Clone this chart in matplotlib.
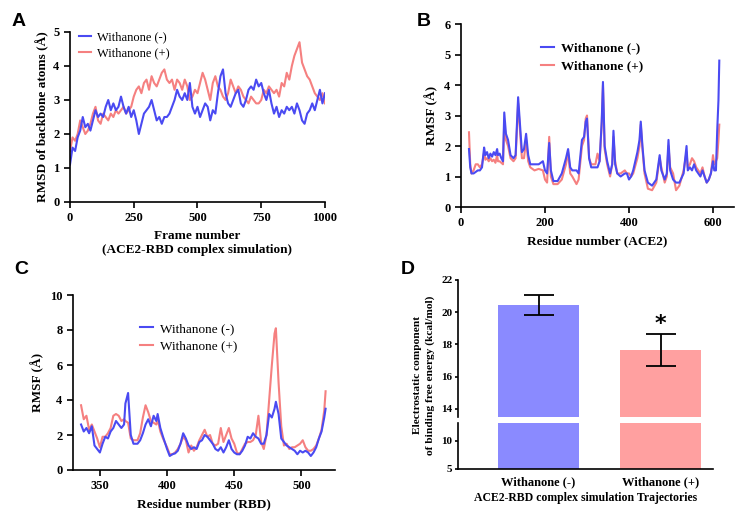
import matplotlib
matplotlib.use('Agg')
import matplotlib.pyplot as plt

# ---- data ----
# Panel A: RMSD vs frame (every 10 frames)
frames = list(range(0, 1001, 10))
rmsd_minus = [1.1, 1.6, 1.5, 1.9, 2.1, 2.5, 2.2, 2.3, 2.1, 2.4,
              2.7, 2.5, 2.6, 2.5, 2.8, 3.0, 2.7, 2.9, 2.7, 2.8,
              3.1, 2.8, 2.6, 2.8, 2.5, 2.7, 2.4, 2.0, 2.3, 2.6,
              2.7, 2.8, 3.0, 2.7, 2.4, 2.5, 2.3, 2.5, 2.5, 2.6,
              2.8, 3.0, 3.3, 3.1, 3.0, 3.2, 3.0, 3.5, 2.8, 2.6,
              2.8, 2.5, 2.7, 2.9, 2.8, 2.4, 2.7, 2.6, 3.2, 3.7,
              3.9, 3.2, 2.9, 2.8, 3.0, 3.2, 3.3, 2.9, 2.8, 3.0,
              3.3, 3.4, 3.3, 3.6, 3.4, 3.5, 3.2, 3.0, 3.3, 2.9,
              2.6, 2.8, 2.5, 2.7, 2.6, 2.8, 2.7, 2.8, 2.6, 2.9,
              2.7, 2.4, 2.3, 2.6, 2.7, 2.9, 2.7, 3.0, 3.3, 2.9,
              3.2]
rmsd_plus = [1.5, 1.9, 1.8, 2.0, 2.4, 2.2, 2.0, 2.1, 2.3, 2.6,
             2.8, 2.4, 2.3, 2.6, 2.5, 2.4, 2.6, 2.5, 2.7, 2.6,
             2.7, 2.8, 2.6, 2.7, 2.8, 3.1, 3.3, 3.4, 3.2, 3.5,
             3.6, 3.3, 3.7, 3.5, 3.4, 3.6, 3.8, 3.9, 3.6, 3.5,
             3.6, 3.3, 3.6, 3.5, 3.3, 3.6, 3.4, 3.0, 3.1, 3.3,
             3.2, 3.5, 3.8, 3.6, 3.3, 3.0, 3.5, 3.7, 3.4, 3.3,
             3.1, 3.0, 3.2, 3.6, 3.4, 3.2, 3.4, 3.3, 3.1, 3.0,
             2.9, 3.1, 3.0, 2.9, 2.9, 3.0, 3.3, 3.2, 3.4, 3.3,
             3.2, 3.3, 3.1, 3.5, 3.4, 3.8, 3.6, 4.0, 4.3, 4.5,
             4.7, 4.1, 3.9, 3.7, 3.6, 3.4, 3.2, 3.1, 3.0, 3.2,
             2.9]

# Panel B: RMSF per ACE2 residue
ace2_res = [19, 22, 25, 30, 35, 40, 45, 50, 55, 58, 62, 66, 70, 74, 78, 82, 86, 88,
            92, 96, 100, 103, 107, 112, 118, 125, 130, 136, 140, 145, 150, 155,
            160, 165, 175, 185, 195, 200, 205, 210, 214, 220, 230, 240, 250, 255,
            260, 265, 275, 280, 288, 293, 297, 300, 305, 310, 320, 325, 330, 335,
            338, 342, 348, 355, 360, 363, 367, 372, 380, 390, 395, 400, 405, 410,
            420, 425, 428, 432, 437, 445, 455, 465, 470, 473, 477, 485, 490, 494,
            498, 505, 512, 520, 530, 537, 540, 545, 550, 555, 560, 570, 575, 580,
            585, 590, 595, 600, 603, 607, 610, 613, 615]
ace2_minus = [1.9, 1.3, 1.1, 1.1, 1.15, 1.2, 1.2, 1.3, 1.95, 1.7, 1.8, 1.6, 1.75, 1.65, 1.8, 1.7, 1.9, 1.7,
              1.75, 1.6, 1.5, 3.1, 2.4, 2.2, 1.7, 1.6, 1.7, 3.6, 2.8, 1.8, 1.9, 2.4,
              1.7, 1.4, 1.4, 1.4, 1.5, 1.2, 1.1, 2.1, 1.2, 0.85, 0.85, 1.1, 1.6, 1.9,
              1.3, 1.2, 1.2, 1.1, 2.2, 2.3, 2.8, 2.9, 1.6, 1.3, 1.3, 1.3, 1.5, 2.8,
              4.1, 2.0, 1.5, 1.1, 1.4, 2.5, 1.4, 1.1, 1.0, 1.1, 1.1, 0.9, 1.0, 1.2,
              1.8, 2.2, 2.8, 2.0, 1.2, 0.8, 0.7, 0.9, 1.4, 1.7, 1.2, 0.9, 1.1, 2.2,
              1.2, 0.9, 0.8, 0.8, 1.1, 2.0, 1.2, 1.3, 1.2, 1.4, 1.2, 1.0, 1.2, 1.0,
              0.8, 0.9, 1.1, 1.5, 1.2, 1.2, 2.5, 3.5, 4.8]
ace2_plus = [2.45, 1.4, 1.1, 1.2, 1.4, 1.4, 1.3, 1.4, 1.8, 1.55, 1.6, 1.5, 1.6, 1.5, 1.55, 1.45, 1.7, 1.5,
             1.5, 1.45, 1.4, 2.8, 2.2, 2.0, 1.6, 1.5, 1.6, 3.4, 2.6, 1.6, 1.6, 2.2,
             1.5, 1.3, 1.2, 1.25, 1.2, 0.9, 0.8, 2.3, 1.0, 0.75, 0.75, 0.9, 1.4, 1.8,
             1.1, 1.0, 0.75, 0.9, 2.0, 2.2, 2.9, 3.0, 1.6, 1.4, 1.4, 1.75, 1.5, 2.7,
             4.0, 1.9, 1.4, 1.0, 1.4, 2.3, 1.5, 1.1, 1.1, 1.2, 1.1, 1.1, 1.0, 1.1,
             1.6, 2.0, 2.7, 1.9, 1.1, 0.6, 0.55, 0.8, 1.3, 1.6, 1.3, 0.8, 1.0, 2.0,
             1.3, 1.1, 0.55, 0.7, 1.2, 1.8, 1.3, 1.4, 1.6, 1.5, 1.3, 1.1, 1.3, 1.0,
             0.8, 0.9, 1.1, 1.7, 1.4, 1.5, 1.6, 2.2, 2.7]

# Panel C: RMSF per RBD residue
rbd_res = [336, 338, 340, 342, 344, 346, 348, 350, 352, 354, 356, 358, 360, 362, 364,
           366, 368, 369, 371, 373, 375, 378, 380, 382, 384, 386, 388, 390, 392, 393,
           395, 397, 400, 402, 404, 406, 408, 410, 412, 414, 416, 418, 420, 422, 424,
           426, 428, 430, 432, 434, 436, 438, 440, 442, 444, 446, 448, 450, 452, 454,
           456, 458, 460, 462, 464, 466, 468, 470, 472, 474, 476, 478, 480, 481, 483,
           485, 487, 489, 491, 493, 495, 497, 499, 501, 503, 505, 507, 509, 511, 513,
           515, 517, 518]
rbd_minus = [2.6, 2.2, 2.4, 2.1, 2.5, 1.4, 1.2, 1.0, 1.5, 1.9, 1.8, 2.2, 2.4, 2.8, 2.6,
             2.4, 2.6, 3.8, 4.4, 2.0, 1.5, 1.5, 1.7, 2.1, 2.6, 2.9, 2.5, 3.1, 2.8, 3.2,
             2.4, 1.9, 1.2, 0.8, 0.9, 0.95, 1.1, 1.5, 2.1, 1.8, 1.4, 1.2, 1.3, 1.2, 1.6,
             1.7, 2.0, 1.9, 1.7, 1.5, 1.2, 1.1, 1.3, 1.0, 1.3, 1.7, 1.2, 1.0, 0.9, 0.9,
             1.1, 1.4, 1.9, 1.8, 2.1, 1.9, 1.8, 1.5, 1.5, 2.0, 3.2, 3.0, 3.5, 3.9, 3.2,
             1.8, 1.6, 1.4, 1.3, 1.2, 1.1, 0.9, 1.1, 1.0, 1.1, 1.0, 0.8, 1.0, 1.3, 1.8,
             2.2, 3.0, 3.5]
rbd_plus = [3.7, 2.9, 3.1, 2.3, 2.6, 2.2, 1.8, 1.3, 1.9, 1.9, 2.1, 2.4, 3.1, 3.2, 3.1,
            2.8, 2.9, 2.8, 2.7, 1.8, 1.7, 1.7, 2.1, 3.0, 3.7, 3.3, 2.8, 2.7, 2.6, 2.9,
            2.2, 1.8, 1.3, 0.9, 0.9, 1.0, 1.2, 1.5, 1.9, 1.7, 1.0, 1.4, 1.1, 1.3, 1.7,
            2.0, 2.3, 1.9, 2.0, 1.5, 1.4, 1.5, 2.4, 1.6, 2.0, 2.4, 1.8, 1.5, 1.0, 0.9,
            1.2, 1.5, 1.6, 1.6, 1.7, 2.0, 3.1, 1.6, 1.2, 2.0, 4.0, 6.0, 7.8, 8.1, 5.0,
            2.5, 1.4, 1.5, 1.2, 1.3, 1.3, 1.4, 1.5, 1.7, 1.3, 1.1, 1.1, 1.2, 1.4, 1.8,
            2.3, 3.4, 4.5]

# Panel D: electrostatic component of binding free energy
groups = ['Withanone (-)', 'Withanone (+)']
energy = [20.45, 17.65]
energy_err = [0.6, 0.97]

BLUE = '#4a4af2'
RED = '#f58080'
BAR_BLUE = '#8a8aff'
BAR_RED = '#ffa0a0'
SERIF = 'Liberation Serif'

W, H = 753, 519


def px_axes(fig, left, top, right, bottom):
    return fig.add_axes([left / W, 1 - bottom / H, (right - left) / W, (bottom - top) / H])


def style(ax, fs=9, tlen=4, tpad=3.5):
    for s in ['top', 'right']:
        ax.spines[s].set_visible(False)
    for s in ['left', 'bottom']:
        ax.spines[s].set_linewidth(1.2)
    ax.tick_params(direction='out', width=1.2, length=tlen, pad=tpad, labelsize=fs)
    for lab in ax.get_xticklabels() + ax.get_yticklabels():
        lab.set_fontfamily(SERIF)
        lab.set_fontweight('bold')


fig = plt.figure(figsize=(W / 100, H / 100), dpi=100)

# ---- A ----
axA = px_axes(fig, 70, 32, 325, 202)
axA.plot(frames, rmsd_plus, color=RED, lw=1.5, label='Withanone (+)')
axA.plot(frames, rmsd_minus, color=BLUE, lw=1.5, label='Withanone (-)')
axA.set_xlim(0, 1000)
axA.set_ylim(0, 5)
axA.set_xticks([0, 250, 500, 750, 1000])
axA.set_yticks(range(6))
style(axA)
axA.set_xlabel('Frame number\n(ACE2-RBD complex simulation)', fontfamily=SERIF,
               fontweight='bold', fontsize=9.5, labelpad=4)
axA.set_ylabel('RMSD of backbone atoms (Å)', fontfamily=SERIF, fontweight='bold',
               fontsize=9.5, labelpad=3)
h, l = axA.get_legend_handles_labels()
axA.legend(h[::-1], l[::-1], loc='upper left', bbox_to_anchor=(-0.01, 1.07), frameon=False,
           prop={'family': SERIF, 'size': 9}, handlelength=1.0, handletextpad=0.5,
           labelspacing=0.35)

# ---- B ----
axB = px_axes(fig, 461, 24, 734, 207)
axB.plot(ace2_res, ace2_plus, color=RED, lw=1.5, label='Withanone (+)')
axB.plot(ace2_res, ace2_minus, color=BLUE, lw=1.5, label='Withanone (-)')
axB.set_xlim(0, 650)
axB.set_ylim(0, 6)
axB.set_xticks([0, 200, 400, 600])
axB.set_yticks(range(7))
style(axB)
axB.set_xlabel('Residue number (ACE2)', fontfamily=SERIF, fontweight='bold', fontsize=9.5)
axB.set_ylabel('RMSF (Å)', fontfamily=SERIF, fontweight='bold', fontsize=9.5)
h, l = axB.get_legend_handles_labels()
axB.legend(h[::-1], l[::-1], loc='upper left', bbox_to_anchor=(0.25, 0.965), frameon=False,
           prop={'family': SERIF, 'size': 9.5, 'weight': 'bold'}, handlelength=1.0,
           handletextpad=0.5, labelspacing=0.45)

# ---- C ----
axC = px_axes(fig, 73, 295, 335, 470)
axC.plot(rbd_res, rbd_plus, color=RED, lw=1.5, label='Withanone (+)')
axC.plot(rbd_res, rbd_minus, color=BLUE, lw=1.5, label='Withanone (-)')
axC.set_xlim(330, 525)
axC.set_ylim(0, 10)
axC.set_xticks([350, 400, 450, 500])
axC.set_yticks(range(0, 11, 2))
style(axC)
axC.set_xlabel('Residue number (RBD)', fontfamily=SERIF, fontweight='bold', fontsize=9.5)
axC.set_ylabel('RMSF (Å)', fontfamily=SERIF, fontweight='bold', fontsize=9.5)
h, l = axC.get_legend_handles_labels()
axC.legend(h[::-1], l[::-1], loc='upper left', bbox_to_anchor=(0.21, 0.91), frameon=False,
           prop={'family': SERIF, 'size': 9.5}, handlelength=1.0, handletextpad=0.5,
           labelspacing=0.4)

# ---- D (broken y axis) ----
axDu = px_axes(fig, 458, 280, 713, 417)
axDl = px_axes(fig, 458, 423, 713, 469)
xpos = [0, 1]
colors = [BAR_BLUE, BAR_RED]
for ax in (axDu, axDl):
    ax.bar(xpos, energy, width=0.66, color=colors)
    ax.set_xlim(-0.66, 1.43)
axDu.errorbar(xpos, energy, yerr=energy_err, fmt='none', ecolor='black', elinewidth=1.3,
              capsize=11, capthick=1.3)
axDu.set_ylim(13.5, 22)
axDu.set_yticks([14, 16, 18, 20, 22])
axDu.set_xticks([])
axDu.text(1, energy[1] + energy_err[1] + 0.05, '*', ha='center', va='bottom',
          fontsize=16, fontweight='bold', fontfamily='DejaVu Sans')
style(axDu, fs=8, tlen=2.5, tpad=1.5)
axDu.spines['bottom'].set_visible(False)
axDl.set_ylim(5, 13.2)
axDl.set_yticks([5, 10])
axDl.set_xticks(xpos)
axDl.set_xticklabels(groups)
style(axDl, fs=8, tlen=2.5, tpad=1.5)
axDl.tick_params(axis='x', length=0, pad=5, labelsize=9)
axDl.set_xlabel('ACE2-RBD complex simulation Trajectories', fontfamily=SERIF,
                fontweight='bold', fontsize=8.5, labelpad=3)
fig.text(424 / W, 1 - 375 / H, 'Electrostatic component\nof binding free energy (kcal/mol)',
         rotation=90, ha='center', va='center', fontfamily=SERIF, fontweight='bold',
         fontsize=8.2, linespacing=1.35)

# ---- panel letters ----
for letter, x, y in [('A', 19, 22), ('B', 424, 22), ('C', 21, 270), ('D', 408, 270)]:
    fig.text(x / W, 1 - y / H, letter, ha='center', va='center', fontsize=14,
             fontweight='bold', fontfamily='Liberation Sans')

fig.savefig('out.png', dpi=100)
